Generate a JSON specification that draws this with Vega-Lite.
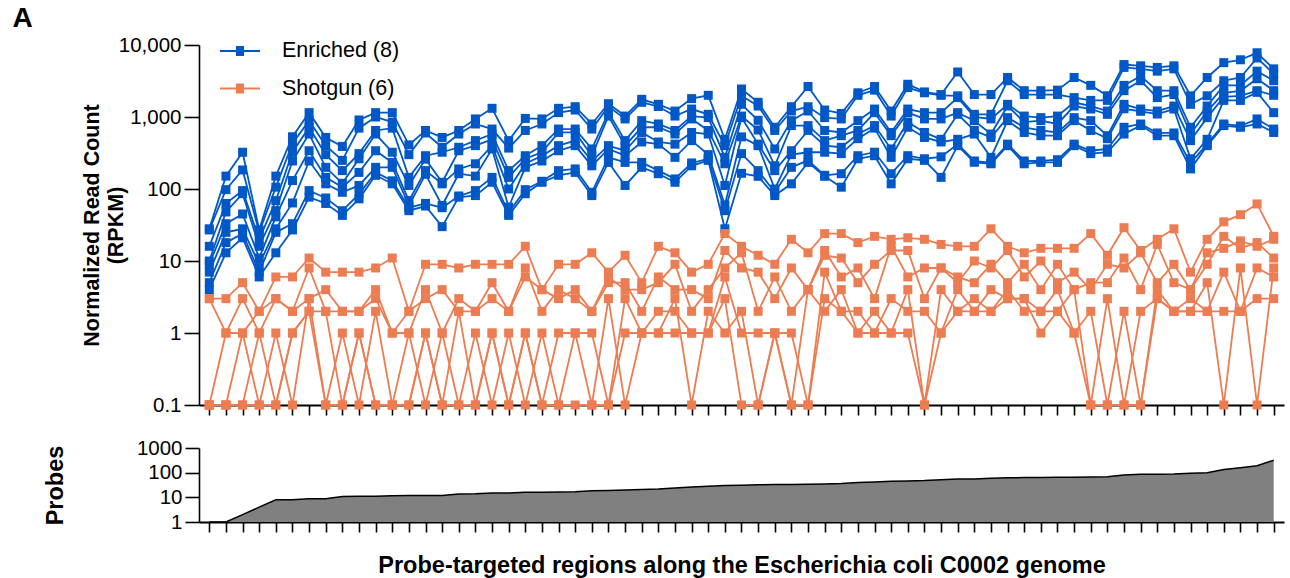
{
"$schema": "https://vega.github.io/schema/vega-lite/v6.json",
"padding": {"left": 12, "top": 5, "right": 5, "bottom": 2},
"background": "white",
"config": {
  "font": "Liberation Sans",
  "view": {"stroke": null},
  "axis": {"grid": false, "domainColor": "black", "domainWidth": 1.6, "tickColor": "black", "tickWidth": 1.6, "labelColor": "black", "labelFontSize": 20.5, "labelFont": "Liberation Sans", "titleFont": "Liberation Sans", "titleFontSize": 21.5, "titleFontWeight": "bold", "titleColor": "black"}
},
"title": {"text": "A", "anchor": "start", "fontSize": 28, "fontWeight": "bold", "font": "Liberation Sans", "color": "black", "dx": -31, "offset": 2},
"spacing": 22,
"resolve": {"scale": {"color": "independent", "fill": "independent"}, "legend": {"color": "independent", "fill": "independent"}},
"datasets": {
"reads": [
{"g":"E","s":1,"i":0,"v":28},{"g":"E","s":1,"i":1,"v":151},{"g":"E","s":1,"i":2,"v":324},{"g":"E","s":1,"i":3,"v":27},{"g":"E","s":1,"i":4,"v":151},{"g":"E","s":1,"i":5,"v":532},{"g":"E","s":1,"i":6,"v":1150},{"g":"E","s":1,"i":7,"v":520},{"g":"E","s":1,"i":8,"v":390},{"g":"E","s":1,"i":9,"v":910},{"g":"E","s":1,"i":10,"v":1150},{"g":"E","s":1,"i":11,"v":1150},{"g":"E","s":1,"i":12,"v":410},{"g":"E","s":1,"i":13,"v":650},{"g":"E","s":1,"i":14,"v":520},{"g":"E","s":1,"i":15,"v":650},{"g":"E","s":1,"i":16,"v":940},{"g":"E","s":1,"i":17,"v":1320},{"g":"E","s":1,"i":18,"v":470},{"g":"E","s":1,"i":19,"v":955},{"g":"E","s":1,"i":20,"v":940},{"g":"E","s":1,"i":21,"v":1320},{"g":"E","s":1,"i":22,"v":1390},{"g":"E","s":1,"i":23,"v":800},{"g":"E","s":1,"i":24,"v":1530},{"g":"E","s":1,"i":25,"v":1030},{"g":"E","s":1,"i":26,"v":1760},{"g":"E","s":1,"i":27,"v":1500},{"g":"E","s":1,"i":28,"v":1210},{"g":"E","s":1,"i":29,"v":1800},{"g":"E","s":1,"i":30,"v":2000},{"g":"E","s":1,"i":31,"v":490},{"g":"E","s":1,"i":32,"v":2450},{"g":"E","s":1,"i":33,"v":1600},{"g":"E","s":1,"i":34,"v":720},{"g":"E","s":1,"i":35,"v":1390},{"g":"E","s":1,"i":36,"v":2650},{"g":"E","s":1,"i":37,"v":1250},{"g":"E","s":1,"i":38,"v":1120},{"g":"E","s":1,"i":39,"v":2170},{"g":"E","s":1,"i":40,"v":2650},{"g":"E","s":1,"i":41,"v":1210},{"g":"E","s":1,"i":42,"v":2850},{"g":"E","s":1,"i":43,"v":2230},{"g":"E","s":1,"i":44,"v":2050},{"g":"E","s":1,"i":45,"v":4220},{"g":"E","s":1,"i":46,"v":2050},{"g":"E","s":1,"i":47,"v":2050},{"g":"E","s":1,"i":48,"v":3540},{"g":"E","s":1,"i":49,"v":2320},{"g":"E","s":1,"i":50,"v":2320},{"g":"E","s":1,"i":51,"v":2360},{"g":"E","s":1,"i":52,"v":3540},{"g":"E","s":1,"i":53,"v":2750},{"g":"E","s":1,"i":54,"v":1970},{"g":"E","s":1,"i":55,"v":5350},{"g":"E","s":1,"i":56,"v":5140},{"g":"E","s":1,"i":57,"v":4880},{"g":"E","s":1,"i":58,"v":5140},{"g":"E","s":1,"i":59,"v":1970},{"g":"E","s":1,"i":60,"v":3540},{"g":"E","s":1,"i":61,"v":5690},{"g":"E","s":1,"i":62,"v":6230},{"g":"E","s":1,"i":63,"v":7800},{"g":"E","s":1,"i":64,"v":4660},
{"g":"E","s":2,"i":0,"v":27},{"g":"E","s":2,"i":1,"v":98},{"g":"E","s":2,"i":2,"v":184},{"g":"E","s":2,"i":3,"v":25},{"g":"E","s":2,"i":4,"v":106},{"g":"E","s":2,"i":5,"v":428},{"g":"E","s":2,"i":6,"v":890},{"g":"E","s":2,"i":7,"v":400},{"g":"E","s":2,"i":8,"v":250},{"g":"E","s":2,"i":9,"v":700},{"g":"E","s":2,"i":10,"v":1000},{"g":"E","s":2,"i":11,"v":850},{"g":"E","s":2,"i":12,"v":300},{"g":"E","s":2,"i":13,"v":600},{"g":"E","s":2,"i":14,"v":380},{"g":"E","s":2,"i":15,"v":580},{"g":"E","s":2,"i":16,"v":800},{"g":"E","s":2,"i":17,"v":680},{"g":"E","s":2,"i":18,"v":370},{"g":"E","s":2,"i":19,"v":650},{"g":"E","s":2,"i":20,"v":800},{"g":"E","s":2,"i":21,"v":1150},{"g":"E","s":2,"i":22,"v":1250},{"g":"E","s":2,"i":23,"v":680},{"g":"E","s":2,"i":24,"v":1400},{"g":"E","s":2,"i":25,"v":940},{"g":"E","s":2,"i":26,"v":1600},{"g":"E","s":2,"i":27,"v":1400},{"g":"E","s":2,"i":28,"v":1030},{"g":"E","s":2,"i":29,"v":1290},{"g":"E","s":2,"i":30,"v":1090},{"g":"E","s":2,"i":31,"v":400},{"g":"E","s":2,"i":32,"v":1970},{"g":"E","s":2,"i":33,"v":1420},{"g":"E","s":2,"i":34,"v":650},{"g":"E","s":2,"i":35,"v":1210},{"g":"E","s":2,"i":36,"v":1390},{"g":"E","s":2,"i":37,"v":980},{"g":"E","s":2,"i":38,"v":940},{"g":"E","s":2,"i":39,"v":2000},{"g":"E","s":2,"i":40,"v":2360},{"g":"E","s":2,"i":41,"v":1030},{"g":"E","s":2,"i":42,"v":2560},{"g":"E","s":2,"i":43,"v":2170},{"g":"E","s":2,"i":44,"v":2000},{"g":"E","s":2,"i":45,"v":1970},{"g":"E","s":2,"i":46,"v":1090},{"g":"E","s":2,"i":47,"v":1090},{"g":"E","s":2,"i":48,"v":3190},{"g":"E","s":2,"i":49,"v":2050},{"g":"E","s":2,"i":50,"v":2050},{"g":"E","s":2,"i":51,"v":2050},{"g":"E","s":2,"i":52,"v":1860},{"g":"E","s":2,"i":53,"v":1700},{"g":"E","s":2,"i":54,"v":1700},{"g":"E","s":2,"i":55,"v":4880},{"g":"E","s":2,"i":56,"v":4660},{"g":"E","s":2,"i":57,"v":4330},{"g":"E","s":2,"i":58,"v":4660},{"g":"E","s":2,"i":59,"v":1500},{"g":"E","s":2,"i":60,"v":1970},{"g":"E","s":2,"i":61,"v":3190},{"g":"E","s":2,"i":62,"v":3540},{"g":"E","s":2,"i":63,"v":6600},{"g":"E","s":2,"i":64,"v":4000},
{"g":"E","s":3,"i":0,"v":16},{"g":"E","s":3,"i":1,"v":63},{"g":"E","s":3,"i":2,"v":95},{"g":"E","s":3,"i":3,"v":20},{"g":"E","s":3,"i":4,"v":69},{"g":"E","s":3,"i":5,"v":324},{"g":"E","s":3,"i":6,"v":720},{"g":"E","s":3,"i":7,"v":300},{"g":"E","s":3,"i":8,"v":180},{"g":"E","s":3,"i":9,"v":310},{"g":"E","s":3,"i":10,"v":650},{"g":"E","s":3,"i":11,"v":700},{"g":"E","s":3,"i":12,"v":145},{"g":"E","s":3,"i":13,"v":290},{"g":"E","s":3,"i":14,"v":324},{"g":"E","s":3,"i":15,"v":380},{"g":"E","s":3,"i":16,"v":470},{"g":"E","s":3,"i":17,"v":580},{"g":"E","s":3,"i":18,"v":180},{"g":"E","s":3,"i":19,"v":290},{"g":"E","s":3,"i":20,"v":400},{"g":"E","s":3,"i":21,"v":680},{"g":"E","s":3,"i":22,"v":680},{"g":"E","s":3,"i":23,"v":360},{"g":"E","s":3,"i":24,"v":1150},{"g":"E","s":3,"i":25,"v":470},{"g":"E","s":3,"i":26,"v":890},{"g":"E","s":3,"i":27,"v":800},{"g":"E","s":3,"i":28,"v":650},{"g":"E","s":3,"i":29,"v":1030},{"g":"E","s":3,"i":30,"v":980},{"g":"E","s":3,"i":31,"v":275},{"g":"E","s":3,"i":32,"v":1500},{"g":"E","s":3,"i":33,"v":900},{"g":"E","s":3,"i":34,"v":360},{"g":"E","s":3,"i":35,"v":890},{"g":"E","s":3,"i":36,"v":1210},{"g":"E","s":3,"i":37,"v":650},{"g":"E","s":3,"i":38,"v":610},{"g":"E","s":3,"i":39,"v":890},{"g":"E","s":3,"i":40,"v":1290},{"g":"E","s":3,"i":41,"v":610},{"g":"E","s":3,"i":42,"v":1290},{"g":"E","s":3,"i":43,"v":1150},{"g":"E","s":3,"i":44,"v":1150},{"g":"E","s":3,"i":45,"v":1860},{"g":"E","s":3,"i":46,"v":1000},{"g":"E","s":3,"i":47,"v":940},{"g":"E","s":3,"i":48,"v":1500},{"g":"E","s":3,"i":49,"v":1030},{"g":"E","s":3,"i":50,"v":980},{"g":"E","s":3,"i":51,"v":1030},{"g":"E","s":3,"i":52,"v":1600},{"g":"E","s":3,"i":53,"v":1420},{"g":"E","s":3,"i":54,"v":1210},{"g":"E","s":3,"i":55,"v":2750},{"g":"E","s":3,"i":56,"v":3700},{"g":"E","s":3,"i":57,"v":2320},{"g":"E","s":3,"i":58,"v":2320},{"g":"E","s":3,"i":59,"v":720},{"g":"E","s":3,"i":60,"v":1420},{"g":"E","s":3,"i":61,"v":2750},{"g":"E","s":3,"i":62,"v":2750},{"g":"E","s":3,"i":63,"v":4330},{"g":"E","s":3,"i":64,"v":3190},
{"g":"E","s":4,"i":0,"v":10},{"g":"E","s":4,"i":1,"v":48},{"g":"E","s":4,"i":2,"v":86},{"g":"E","s":4,"i":3,"v":16},{"g":"E","s":4,"i":4,"v":50},{"g":"E","s":4,"i":5,"v":245},{"g":"E","s":4,"i":6,"v":580},{"g":"E","s":4,"i":7,"v":200},{"g":"E","s":4,"i":8,"v":120},{"g":"E","s":4,"i":9,"v":263},{"g":"E","s":4,"i":10,"v":580},{"g":"E","s":4,"i":11,"v":324},{"g":"E","s":4,"i":12,"v":112},{"g":"E","s":4,"i":13,"v":260},{"g":"E","s":4,"i":14,"v":124},{"g":"E","s":4,"i":15,"v":340},{"g":"E","s":4,"i":16,"v":400},{"g":"E","s":4,"i":17,"v":490},{"g":"E","s":4,"i":18,"v":145},{"g":"E","s":4,"i":19,"v":263},{"g":"E","s":4,"i":20,"v":324},{"g":"E","s":4,"i":21,"v":610},{"g":"E","s":4,"i":22,"v":610},{"g":"E","s":4,"i":23,"v":290},{"g":"E","s":4,"i":24,"v":1030},{"g":"E","s":4,"i":25,"v":400},{"g":"E","s":4,"i":26,"v":720},{"g":"E","s":4,"i":27,"v":720},{"g":"E","s":4,"i":28,"v":580},{"g":"E","s":4,"i":29,"v":940},{"g":"E","s":4,"i":30,"v":650},{"g":"E","s":4,"i":31,"v":224},{"g":"E","s":4,"i":32,"v":1030},{"g":"E","s":4,"i":33,"v":660},{"g":"E","s":4,"i":34,"v":210},{"g":"E","s":4,"i":35,"v":760},{"g":"E","s":4,"i":36,"v":760},{"g":"E","s":4,"i":37,"v":470},{"g":"E","s":4,"i":38,"v":550},{"g":"E","s":4,"i":39,"v":650},{"g":"E","s":4,"i":40,"v":1150},{"g":"E","s":4,"i":41,"v":550},{"g":"E","s":4,"i":42,"v":1150},{"g":"E","s":4,"i":43,"v":940},{"g":"E","s":4,"i":44,"v":940},{"g":"E","s":4,"i":45,"v":1150},{"g":"E","s":4,"i":46,"v":890},{"g":"E","s":4,"i":47,"v":580},{"g":"E","s":4,"i":48,"v":1420},{"g":"E","s":4,"i":49,"v":850},{"g":"E","s":4,"i":50,"v":890},{"g":"E","s":4,"i":51,"v":800},{"g":"E","s":4,"i":52,"v":1420},{"g":"E","s":4,"i":53,"v":1290},{"g":"E","s":4,"i":54,"v":1090},{"g":"E","s":4,"i":55,"v":2320},{"g":"E","s":4,"i":56,"v":3190},{"g":"E","s":4,"i":57,"v":1860},{"g":"E","s":4,"i":58,"v":2050},{"g":"E","s":4,"i":59,"v":580},{"g":"E","s":4,"i":60,"v":1200},{"g":"E","s":4,"i":61,"v":2170},{"g":"E","s":4,"i":62,"v":2300},{"g":"E","s":4,"i":63,"v":3400},{"g":"E","s":4,"i":64,"v":2320},
{"g":"E","s":5,"i":0,"v":9},{"g":"E","s":5,"i":1,"v":33},{"g":"E","s":5,"i":2,"v":45},{"g":"E","s":5,"i":3,"v":11},{"g":"E","s":5,"i":4,"v":41},{"g":"E","s":5,"i":5,"v":131},{"g":"E","s":5,"i":6,"v":340},{"g":"E","s":5,"i":7,"v":145},{"g":"E","s":5,"i":8,"v":106},{"g":"E","s":5,"i":9,"v":170},{"g":"E","s":5,"i":10,"v":340},{"g":"E","s":5,"i":11,"v":234},{"g":"E","s":5,"i":12,"v":69},{"g":"E","s":5,"i":13,"v":180},{"g":"E","s":5,"i":14,"v":118},{"g":"E","s":5,"i":15,"v":190},{"g":"E","s":5,"i":16,"v":224},{"g":"E","s":5,"i":17,"v":400},{"g":"E","s":5,"i":18,"v":100},{"g":"E","s":5,"i":19,"v":224},{"g":"E","s":5,"i":20,"v":290},{"g":"E","s":5,"i":21,"v":400},{"g":"E","s":5,"i":22,"v":470},{"g":"E","s":5,"i":23,"v":245},{"g":"E","s":5,"i":24,"v":400},{"g":"E","s":5,"i":25,"v":340},{"g":"E","s":5,"i":26,"v":610},{"g":"E","s":5,"i":27,"v":450},{"g":"E","s":5,"i":28,"v":420},{"g":"E","s":5,"i":29,"v":610},{"g":"E","s":5,"i":30,"v":580},{"g":"E","s":5,"i":31,"v":112},{"g":"E","s":5,"i":32,"v":980},{"g":"E","s":5,"i":33,"v":420},{"g":"E","s":5,"i":34,"v":180},{"g":"E","s":5,"i":35,"v":340},{"g":"E","s":5,"i":36,"v":650},{"g":"E","s":5,"i":37,"v":400},{"g":"E","s":5,"i":38,"v":380},{"g":"E","s":5,"i":39,"v":580},{"g":"E","s":5,"i":40,"v":760},{"g":"E","s":5,"i":41,"v":360},{"g":"E","s":5,"i":42,"v":850},{"g":"E","s":5,"i":43,"v":610},{"g":"E","s":5,"i":44,"v":490},{"g":"E","s":5,"i":45,"v":1090},{"g":"E","s":5,"i":46,"v":650},{"g":"E","s":5,"i":47,"v":520},{"g":"E","s":5,"i":48,"v":980},{"g":"E","s":5,"i":49,"v":720},{"g":"E","s":5,"i":50,"v":650},{"g":"E","s":5,"i":51,"v":610},{"g":"E","s":5,"i":52,"v":980},{"g":"E","s":5,"i":53,"v":890},{"g":"E","s":5,"i":54,"v":550},{"g":"E","s":5,"i":55,"v":1500},{"g":"E","s":5,"i":56,"v":1290},{"g":"E","s":5,"i":57,"v":1210},{"g":"E","s":5,"i":58,"v":1420},{"g":"E","s":5,"i":59,"v":470},{"g":"E","s":5,"i":60,"v":980},{"g":"E","s":5,"i":61,"v":1900},{"g":"E","s":5,"i":62,"v":1970},{"g":"E","s":5,"i":63,"v":2320},{"g":"E","s":5,"i":64,"v":2000},
{"g":"E","s":6,"i":0,"v":7},{"g":"E","s":6,"i":1,"v":25},{"g":"E","s":6,"i":2,"v":28},{"g":"E","s":6,"i":3,"v":9},{"g":"E","s":6,"i":4,"v":28},{"g":"E","s":6,"i":5,"v":64},{"g":"E","s":6,"i":6,"v":245},{"g":"E","s":6,"i":7,"v":118},{"g":"E","s":6,"i":8,"v":90},{"g":"E","s":6,"i":9,"v":112},{"g":"E","s":6,"i":10,"v":200},{"g":"E","s":6,"i":11,"v":200},{"g":"E","s":6,"i":12,"v":59},{"g":"E","s":6,"i":13,"v":160},{"g":"E","s":6,"i":14,"v":59},{"g":"E","s":6,"i":15,"v":163},{"g":"E","s":6,"i":16,"v":151},{"g":"E","s":6,"i":17,"v":360},{"g":"E","s":6,"i":18,"v":56},{"g":"E","s":6,"i":19,"v":200},{"g":"E","s":6,"i":20,"v":245},{"g":"E","s":6,"i":21,"v":340},{"g":"E","s":6,"i":22,"v":400},{"g":"E","s":6,"i":23,"v":210},{"g":"E","s":6,"i":24,"v":360},{"g":"E","s":6,"i":25,"v":290},{"g":"E","s":6,"i":26,"v":450},{"g":"E","s":6,"i":27,"v":420},{"g":"E","s":6,"i":28,"v":275},{"g":"E","s":6,"i":29,"v":470},{"g":"E","s":6,"i":30,"v":300},{"g":"E","s":6,"i":31,"v":60},{"g":"E","s":6,"i":32,"v":530},{"g":"E","s":6,"i":33,"v":400},{"g":"E","s":6,"i":34,"v":100},{"g":"E","s":6,"i":35,"v":300},{"g":"E","s":6,"i":36,"v":324},{"g":"E","s":6,"i":37,"v":324},{"g":"E","s":6,"i":38,"v":310},{"g":"E","s":6,"i":39,"v":500},{"g":"E","s":6,"i":40,"v":700},{"g":"E","s":6,"i":41,"v":275},{"g":"E","s":6,"i":42,"v":720},{"g":"E","s":6,"i":43,"v":520},{"g":"E","s":6,"i":44,"v":450},{"g":"E","s":6,"i":45,"v":490},{"g":"E","s":6,"i":46,"v":580},{"g":"E","s":6,"i":47,"v":275},{"g":"E","s":6,"i":48,"v":890},{"g":"E","s":6,"i":49,"v":610},{"g":"E","s":6,"i":50,"v":550},{"g":"E","s":6,"i":51,"v":550},{"g":"E","s":6,"i":52,"v":890},{"g":"E","s":6,"i":53,"v":650},{"g":"E","s":6,"i":54,"v":500},{"g":"E","s":6,"i":55,"v":1300},{"g":"E","s":6,"i":56,"v":1200},{"g":"E","s":6,"i":57,"v":1100},{"g":"E","s":6,"i":58,"v":1290},{"g":"E","s":6,"i":59,"v":263},{"g":"E","s":6,"i":60,"v":490},{"g":"E","s":6,"i":61,"v":1700},{"g":"E","s":6,"i":62,"v":1700},{"g":"E","s":6,"i":63,"v":2200},{"g":"E","s":6,"i":64,"v":1150},
{"g":"E","s":7,"i":0,"v":5},{"g":"E","s":7,"i":1,"v":18},{"g":"E","s":7,"i":2,"v":24},{"g":"E","s":7,"i":3,"v":7},{"g":"E","s":7,"i":4,"v":25},{"g":"E","s":7,"i":5,"v":33},{"g":"E","s":7,"i":6,"v":95},{"g":"E","s":7,"i":7,"v":75},{"g":"E","s":7,"i":8,"v":50},{"g":"E","s":7,"i":9,"v":85},{"g":"E","s":7,"i":10,"v":170},{"g":"E","s":7,"i":11,"v":130},{"g":"E","s":7,"i":12,"v":55},{"g":"E","s":7,"i":13,"v":63},{"g":"E","s":7,"i":14,"v":55},{"g":"E","s":7,"i":15,"v":80},{"g":"E","s":7,"i":16,"v":95},{"g":"E","s":7,"i":17,"v":145},{"g":"E","s":7,"i":18,"v":47},{"g":"E","s":7,"i":19,"v":98},{"g":"E","s":7,"i":20,"v":128},{"g":"E","s":7,"i":21,"v":180},{"g":"E","s":7,"i":22,"v":190},{"g":"E","s":7,"i":23,"v":90},{"g":"E","s":7,"i":24,"v":275},{"g":"E","s":7,"i":25,"v":234},{"g":"E","s":7,"i":26,"v":234},{"g":"E","s":7,"i":27,"v":180},{"g":"E","s":7,"i":28,"v":138},{"g":"E","s":7,"i":29,"v":230},{"g":"E","s":7,"i":30,"v":263},{"g":"E","s":7,"i":31,"v":50},{"g":"E","s":7,"i":32,"v":310},{"g":"E","s":7,"i":33,"v":180},{"g":"E","s":7,"i":34,"v":90},{"g":"E","s":7,"i":35,"v":200},{"g":"E","s":7,"i":36,"v":250},{"g":"E","s":7,"i":37,"v":155},{"g":"E","s":7,"i":38,"v":163},{"g":"E","s":7,"i":39,"v":290},{"g":"E","s":7,"i":40,"v":324},{"g":"E","s":7,"i":41,"v":163},{"g":"E","s":7,"i":42,"v":290},{"g":"E","s":7,"i":43,"v":263},{"g":"E","s":7,"i":44,"v":280},{"g":"E","s":7,"i":45,"v":420},{"g":"E","s":7,"i":46,"v":245},{"g":"E","s":7,"i":47,"v":230},{"g":"E","s":7,"i":48,"v":420},{"g":"E","s":7,"i":49,"v":245},{"g":"E","s":7,"i":50,"v":245},{"g":"E","s":7,"i":51,"v":255},{"g":"E","s":7,"i":52,"v":420},{"g":"E","s":7,"i":53,"v":340},{"g":"E","s":7,"i":54,"v":360},{"g":"E","s":7,"i":55,"v":720},{"g":"E","s":7,"i":56,"v":800},{"g":"E","s":7,"i":57,"v":600},{"g":"E","s":7,"i":58,"v":600},{"g":"E","s":7,"i":59,"v":230},{"g":"E","s":7,"i":60,"v":420},{"g":"E","s":7,"i":61,"v":800},{"g":"E","s":7,"i":62,"v":750},{"g":"E","s":7,"i":63,"v":940},{"g":"E","s":7,"i":64,"v":680},
{"g":"E","s":8,"i":0,"v":4},{"g":"E","s":8,"i":1,"v":13},{"g":"E","s":8,"i":2,"v":21},{"g":"E","s":8,"i":3,"v":6},{"g":"E","s":8,"i":4,"v":13},{"g":"E","s":8,"i":5,"v":27},{"g":"E","s":8,"i":6,"v":77},{"g":"E","s":8,"i":7,"v":63},{"g":"E","s":8,"i":8,"v":43},{"g":"E","s":8,"i":9,"v":73},{"g":"E","s":8,"i":10,"v":155},{"g":"E","s":8,"i":11,"v":118},{"g":"E","s":8,"i":12,"v":50},{"g":"E","s":8,"i":13,"v":58},{"g":"E","s":8,"i":14,"v":30},{"g":"E","s":8,"i":15,"v":77},{"g":"E","s":8,"i":16,"v":81},{"g":"E","s":8,"i":17,"v":124},{"g":"E","s":8,"i":18,"v":43},{"g":"E","s":8,"i":19,"v":86},{"g":"E","s":8,"i":20,"v":124},{"g":"E","s":8,"i":21,"v":155},{"g":"E","s":8,"i":22,"v":170},{"g":"E","s":8,"i":23,"v":81},{"g":"E","s":8,"i":24,"v":234},{"g":"E","s":8,"i":25,"v":112},{"g":"E","s":8,"i":26,"v":200},{"g":"E","s":8,"i":27,"v":163},{"g":"E","s":8,"i":28,"v":124},{"g":"E","s":8,"i":29,"v":210},{"g":"E","s":8,"i":30,"v":250},{"g":"E","s":8,"i":31,"v":28},{"g":"E","s":8,"i":32,"v":165},{"g":"E","s":8,"i":33,"v":150},{"g":"E","s":8,"i":34,"v":81},{"g":"E","s":8,"i":35,"v":118},{"g":"E","s":8,"i":36,"v":234},{"g":"E","s":8,"i":37,"v":150},{"g":"E","s":8,"i":38,"v":106},{"g":"E","s":8,"i":39,"v":263},{"g":"E","s":8,"i":40,"v":290},{"g":"E","s":8,"i":41,"v":118},{"g":"E","s":8,"i":42,"v":263},{"g":"E","s":8,"i":43,"v":250},{"g":"E","s":8,"i":44,"v":145},{"g":"E","s":8,"i":45,"v":400},{"g":"E","s":8,"i":46,"v":235},{"g":"E","s":8,"i":47,"v":224},{"g":"E","s":8,"i":48,"v":400},{"g":"E","s":8,"i":49,"v":224},{"g":"E","s":8,"i":50,"v":234},{"g":"E","s":8,"i":51,"v":234},{"g":"E","s":8,"i":52,"v":400},{"g":"E","s":8,"i":53,"v":310},{"g":"E","s":8,"i":54,"v":324},{"g":"E","s":8,"i":55,"v":580},{"g":"E","s":8,"i":56,"v":760},{"g":"E","s":8,"i":57,"v":550},{"g":"E","s":8,"i":58,"v":550},{"g":"E","s":8,"i":59,"v":190},{"g":"E","s":8,"i":60,"v":400},{"g":"E","s":8,"i":61,"v":760},{"g":"E","s":8,"i":62,"v":720},{"g":"E","s":8,"i":63,"v":800},{"g":"E","s":8,"i":64,"v":610},
{"g":"S","s":1,"i":0,"v":3},{"g":"S","s":1,"i":1,"v":3},{"g":"S","s":1,"i":2,"v":5},{"g":"S","s":1,"i":3,"v":2},{"g":"S","s":1,"i":4,"v":6},{"g":"S","s":1,"i":5,"v":6},{"g":"S","s":1,"i":6,"v":11},{"g":"S","s":1,"i":7,"v":7},{"g":"S","s":1,"i":8,"v":7},{"g":"S","s":1,"i":9,"v":7},{"g":"S","s":1,"i":10,"v":8},{"g":"S","s":1,"i":11,"v":11},{"g":"S","s":1,"i":12,"v":2},{"g":"S","s":1,"i":13,"v":9},{"g":"S","s":1,"i":14,"v":9},{"g":"S","s":1,"i":15,"v":8},{"g":"S","s":1,"i":16,"v":9},{"g":"S","s":1,"i":17,"v":9},{"g":"S","s":1,"i":18,"v":9},{"g":"S","s":1,"i":19,"v":16},{"g":"S","s":1,"i":20,"v":4},{"g":"S","s":1,"i":21,"v":9},{"g":"S","s":1,"i":22,"v":9},{"g":"S","s":1,"i":23,"v":13},{"g":"S","s":1,"i":24,"v":7},{"g":"S","s":1,"i":25,"v":12},{"g":"S","s":1,"i":26,"v":5},{"g":"S","s":1,"i":27,"v":16},{"g":"S","s":1,"i":28,"v":13},{"g":"S","s":1,"i":29,"v":7},{"g":"S","s":1,"i":30,"v":9},{"g":"S","s":1,"i":31,"v":24},{"g":"S","s":1,"i":32,"v":16},{"g":"S","s":1,"i":33,"v":12},{"g":"S","s":1,"i":34,"v":9},{"g":"S","s":1,"i":35,"v":20},{"g":"S","s":1,"i":36,"v":13},{"g":"S","s":1,"i":37,"v":24},{"g":"S","s":1,"i":38,"v":24},{"g":"S","s":1,"i":39,"v":18},{"g":"S","s":1,"i":40,"v":22},{"g":"S","s":1,"i":41,"v":20},{"g":"S","s":1,"i":42,"v":21},{"g":"S","s":1,"i":43,"v":20},{"g":"S","s":1,"i":44,"v":17},{"g":"S","s":1,"i":45,"v":16},{"g":"S","s":1,"i":46,"v":16},{"g":"S","s":1,"i":47,"v":28},{"g":"S","s":1,"i":48,"v":16},{"g":"S","s":1,"i":49,"v":13},{"g":"S","s":1,"i":50,"v":15},{"g":"S","s":1,"i":51,"v":15},{"g":"S","s":1,"i":52,"v":15},{"g":"S","s":1,"i":53,"v":24},{"g":"S","s":1,"i":54,"v":12},{"g":"S","s":1,"i":55,"v":29},{"g":"S","s":1,"i":56,"v":14},{"g":"S","s":1,"i":57,"v":20},{"g":"S","s":1,"i":58,"v":28},{"g":"S","s":1,"i":59,"v":7},{"g":"S","s":1,"i":60,"v":20},{"g":"S","s":1,"i":61,"v":35},{"g":"S","s":1,"i":62,"v":44},{"g":"S","s":1,"i":63,"v":62},{"g":"S","s":1,"i":64,"v":22},
{"g":"S","s":2,"i":0,"v":3},{"g":"S","s":2,"i":1,"v":1},{"g":"S","s":2,"i":2,"v":3},{"g":"S","s":2,"i":3,"v":1},{"g":"S","s":2,"i":4,"v":3},{"g":"S","s":2,"i":5,"v":2},{"g":"S","s":2,"i":6,"v":8},{"g":"S","s":2,"i":7,"v":2},{"g":"S","s":2,"i":8,"v":2},{"g":"S","s":2,"i":9,"v":2},{"g":"S","s":2,"i":10,"v":4},{"g":"S","s":2,"i":11,"v":1},{"g":"S","s":2,"i":12,"v":2},{"g":"S","s":2,"i":13,"v":3},{"g":"S","s":2,"i":14,"v":4},{"g":"S","s":2,"i":15,"v":2},{"g":"S","s":2,"i":16,"v":2},{"g":"S","s":2,"i":17,"v":3},{"g":"S","s":2,"i":18,"v":2},{"g":"S","s":2,"i":19,"v":6},{"g":"S","s":2,"i":20,"v":4},{"g":"S","s":2,"i":21,"v":3},{"g":"S","s":2,"i":22,"v":4},{"g":"S","s":2,"i":23,"v":2},{"g":"S","s":2,"i":24,"v":6},{"g":"S","s":2,"i":25,"v":4},{"g":"S","s":2,"i":26,"v":4},{"g":"S","s":2,"i":27,"v":5},{"g":"S","s":2,"i":28,"v":9},{"g":"S","s":2,"i":29,"v":2},{"g":"S","s":2,"i":30,"v":4},{"g":"S","s":2,"i":31,"v":8},{"g":"S","s":2,"i":32,"v":13},{"g":"S","s":2,"i":33,"v":2},{"g":"S","s":2,"i":34,"v":6},{"g":"S","s":2,"i":35,"v":2},{"g":"S","s":2,"i":36,"v":4},{"g":"S","s":2,"i":37,"v":12},{"g":"S","s":2,"i":38,"v":11},{"g":"S","s":2,"i":39,"v":5},{"g":"S","s":2,"i":40,"v":9},{"g":"S","s":2,"i":41,"v":14},{"g":"S","s":2,"i":42,"v":14},{"g":"S","s":2,"i":43,"v":3},{"g":"S","s":2,"i":44,"v":8},{"g":"S","s":2,"i":45,"v":5},{"g":"S","s":2,"i":46,"v":10},{"g":"S","s":2,"i":47,"v":8},{"g":"S","s":2,"i":48,"v":14},{"g":"S","s":2,"i":49,"v":6},{"g":"S","s":2,"i":50,"v":10},{"g":"S","s":2,"i":51,"v":5},{"g":"S","s":2,"i":52,"v":7},{"g":"S","s":2,"i":53,"v":4},{"g":"S","s":2,"i":54,"v":9},{"g":"S","s":2,"i":55,"v":8},{"g":"S","s":2,"i":56,"v":13},{"g":"S","s":2,"i":57,"v":5},{"g":"S","s":2,"i":58,"v":9},{"g":"S","s":2,"i":59,"v":4},{"g":"S","s":2,"i":60,"v":13},{"g":"S","s":2,"i":61,"v":15},{"g":"S","s":2,"i":62,"v":19},{"g":"S","s":2,"i":63,"v":16},{"g":"S","s":2,"i":64,"v":20},
{"g":"S","s":3,"i":0,"v":0.1},{"g":"S","s":3,"i":1,"v":1},{"g":"S","s":3,"i":2,"v":1},{"g":"S","s":3,"i":3,"v":2},{"g":"S","s":3,"i":4,"v":3},{"g":"S","s":3,"i":5,"v":2},{"g":"S","s":3,"i":6,"v":3},{"g":"S","s":3,"i":7,"v":4},{"g":"S","s":3,"i":8,"v":2},{"g":"S","s":3,"i":9,"v":2},{"g":"S","s":3,"i":10,"v":3},{"g":"S","s":3,"i":11,"v":1},{"g":"S","s":3,"i":12,"v":1},{"g":"S","s":3,"i":13,"v":4},{"g":"S","s":3,"i":14,"v":1},{"g":"S","s":3,"i":15,"v":3},{"g":"S","s":3,"i":16,"v":2},{"g":"S","s":3,"i":17,"v":5},{"g":"S","s":3,"i":18,"v":2},{"g":"S","s":3,"i":19,"v":8},{"g":"S","s":3,"i":20,"v":2},{"g":"S","s":3,"i":21,"v":4},{"g":"S","s":3,"i":22,"v":3},{"g":"S","s":3,"i":23,"v":2},{"g":"S","s":3,"i":24,"v":5},{"g":"S","s":3,"i":25,"v":5},{"g":"S","s":3,"i":26,"v":2},{"g":"S","s":3,"i":27,"v":6},{"g":"S","s":3,"i":28,"v":4},{"g":"S","s":3,"i":29,"v":4},{"g":"S","s":3,"i":30,"v":3},{"g":"S","s":3,"i":31,"v":14},{"g":"S","s":3,"i":32,"v":8},{"g":"S","s":3,"i":33,"v":7},{"g":"S","s":3,"i":34,"v":3},{"g":"S","s":3,"i":35,"v":8},{"g":"S","s":3,"i":36,"v":4},{"g":"S","s":3,"i":37,"v":14},{"g":"S","s":3,"i":38,"v":6},{"g":"S","s":3,"i":39,"v":8},{"g":"S","s":3,"i":40,"v":3},{"g":"S","s":3,"i":41,"v":16},{"g":"S","s":3,"i":42,"v":6},{"g":"S","s":3,"i":43,"v":8},{"g":"S","s":3,"i":44,"v":8},{"g":"S","s":3,"i":45,"v":6},{"g":"S","s":3,"i":46,"v":5},{"g":"S","s":3,"i":47,"v":9},{"g":"S","s":3,"i":48,"v":5},{"g":"S","s":3,"i":49,"v":9},{"g":"S","s":3,"i":50,"v":4},{"g":"S","s":3,"i":51,"v":9},{"g":"S","s":3,"i":52,"v":4},{"g":"S","s":3,"i":53,"v":5},{"g":"S","s":3,"i":54,"v":5},{"g":"S","s":3,"i":55,"v":11},{"g":"S","s":3,"i":56,"v":4},{"g":"S","s":3,"i":57,"v":17},{"g":"S","s":3,"i":58,"v":5},{"g":"S","s":3,"i":59,"v":4},{"g":"S","s":3,"i":60,"v":9},{"g":"S","s":3,"i":61,"v":22},{"g":"S","s":3,"i":62,"v":15},{"g":"S","s":3,"i":63,"v":18},{"g":"S","s":3,"i":64,"v":11},
{"g":"S","s":4,"i":0,"v":0.1},{"g":"S","s":4,"i":1,"v":0.1},{"g":"S","s":4,"i":2,"v":1},{"g":"S","s":4,"i":3,"v":0.1},{"g":"S","s":4,"i":4,"v":1},{"g":"S","s":4,"i":5,"v":0.1},{"g":"S","s":4,"i":6,"v":3},{"g":"S","s":4,"i":7,"v":0.1},{"g":"S","s":4,"i":8,"v":1},{"g":"S","s":4,"i":9,"v":0.1},{"g":"S","s":4,"i":10,"v":2},{"g":"S","s":4,"i":11,"v":0.1},{"g":"S","s":4,"i":12,"v":1},{"g":"S","s":4,"i":13,"v":0.1},{"g":"S","s":4,"i":14,"v":1},{"g":"S","s":4,"i":15,"v":0.1},{"g":"S","s":4,"i":16,"v":1},{"g":"S","s":4,"i":17,"v":0.1},{"g":"S","s":4,"i":18,"v":1},{"g":"S","s":4,"i":19,"v":0.1},{"g":"S","s":4,"i":20,"v":1},{"g":"S","s":4,"i":21,"v":0.1},{"g":"S","s":4,"i":22,"v":1},{"g":"S","s":4,"i":23,"v":0.1},{"g":"S","s":4,"i":24,"v":3},{"g":"S","s":4,"i":25,"v":0.1},{"g":"S","s":4,"i":26,"v":1},{"g":"S","s":4,"i":27,"v":1},{"g":"S","s":4,"i":28,"v":3},{"g":"S","s":4,"i":29,"v":0.1},{"g":"S","s":4,"i":30,"v":2},{"g":"S","s":4,"i":31,"v":1},{"g":"S","s":4,"i":32,"v":2},{"g":"S","s":4,"i":33,"v":0.1},{"g":"S","s":4,"i":34,"v":1},{"g":"S","s":4,"i":35,"v":0.1},{"g":"S","s":4,"i":36,"v":4},{"g":"S","s":4,"i":37,"v":2},{"g":"S","s":4,"i":38,"v":4},{"g":"S","s":4,"i":39,"v":1},{"g":"S","s":4,"i":40,"v":2},{"g":"S","s":4,"i":41,"v":1},{"g":"S","s":4,"i":42,"v":4},{"g":"S","s":4,"i":43,"v":0.1},{"g":"S","s":4,"i":44,"v":4},{"g":"S","s":4,"i":45,"v":2},{"g":"S","s":4,"i":46,"v":3},{"g":"S","s":4,"i":47,"v":2},{"g":"S","s":4,"i":48,"v":4},{"g":"S","s":4,"i":49,"v":2},{"g":"S","s":4,"i":50,"v":2},{"g":"S","s":4,"i":51,"v":2},{"g":"S","s":4,"i":52,"v":4},{"g":"S","s":4,"i":53,"v":0.1},{"g":"S","s":4,"i":54,"v":3},{"g":"S","s":4,"i":55,"v":0.1},{"g":"S","s":4,"i":56,"v":2},{"g":"S","s":4,"i":57,"v":3},{"g":"S","s":4,"i":58,"v":2},{"g":"S","s":4,"i":59,"v":2},{"g":"S","s":4,"i":60,"v":5},{"g":"S","s":4,"i":61,"v":0.1},{"g":"S","s":4,"i":62,"v":8},{"g":"S","s":4,"i":63,"v":0.1},{"g":"S","s":4,"i":64,"v":8},
{"g":"S","s":5,"i":0,"v":0.1},{"g":"S","s":5,"i":1,"v":0.1},{"g":"S","s":5,"i":2,"v":0.1},{"g":"S","s":5,"i":3,"v":1},{"g":"S","s":5,"i":4,"v":0.1},{"g":"S","s":5,"i":5,"v":1},{"g":"S","s":5,"i":6,"v":2},{"g":"S","s":5,"i":7,"v":2},{"g":"S","s":5,"i":8,"v":0.1},{"g":"S","s":5,"i":9,"v":1},{"g":"S","s":5,"i":10,"v":0.1},{"g":"S","s":5,"i":11,"v":0.1},{"g":"S","s":5,"i":12,"v":0.1},{"g":"S","s":5,"i":13,"v":1},{"g":"S","s":5,"i":14,"v":0.1},{"g":"S","s":5,"i":15,"v":2},{"g":"S","s":5,"i":16,"v":0.1},{"g":"S","s":5,"i":17,"v":1},{"g":"S","s":5,"i":18,"v":0.1},{"g":"S","s":5,"i":19,"v":1},{"g":"S","s":5,"i":20,"v":0.1},{"g":"S","s":5,"i":21,"v":1},{"g":"S","s":5,"i":22,"v":1},{"g":"S","s":5,"i":23,"v":1},{"g":"S","s":5,"i":24,"v":0.1},{"g":"S","s":5,"i":25,"v":3},{"g":"S","s":5,"i":26,"v":1},{"g":"S","s":5,"i":27,"v":2},{"g":"S","s":5,"i":28,"v":2},{"g":"S","s":5,"i":29,"v":1},{"g":"S","s":5,"i":30,"v":1},{"g":"S","s":5,"i":31,"v":6},{"g":"S","s":5,"i":32,"v":1},{"g":"S","s":5,"i":33,"v":1},{"g":"S","s":5,"i":34,"v":1},{"g":"S","s":5,"i":35,"v":1},{"g":"S","s":5,"i":36,"v":0.1},{"g":"S","s":5,"i":37,"v":7},{"g":"S","s":5,"i":38,"v":2},{"g":"S","s":5,"i":39,"v":2},{"g":"S","s":5,"i":40,"v":1},{"g":"S","s":5,"i":41,"v":3},{"g":"S","s":5,"i":42,"v":2},{"g":"S","s":5,"i":43,"v":2},{"g":"S","s":5,"i":44,"v":1},{"g":"S","s":5,"i":45,"v":4},{"g":"S","s":5,"i":46,"v":2},{"g":"S","s":5,"i":47,"v":4},{"g":"S","s":5,"i":48,"v":3},{"g":"S","s":5,"i":49,"v":3},{"g":"S","s":5,"i":50,"v":2},{"g":"S","s":5,"i":51,"v":4},{"g":"S","s":5,"i":52,"v":1},{"g":"S","s":5,"i":53,"v":2},{"g":"S","s":5,"i":54,"v":0.1},{"g":"S","s":5,"i":55,"v":2},{"g":"S","s":5,"i":56,"v":0.1},{"g":"S","s":5,"i":57,"v":4},{"g":"S","s":5,"i":58,"v":2},{"g":"S","s":5,"i":59,"v":3},{"g":"S","s":5,"i":60,"v":2},{"g":"S","s":5,"i":61,"v":7},{"g":"S","s":5,"i":62,"v":2},{"g":"S","s":5,"i":63,"v":8},{"g":"S","s":5,"i":64,"v":6},
{"g":"S","s":6,"i":0,"v":0.1},{"g":"S","s":6,"i":1,"v":0.1},{"g":"S","s":6,"i":2,"v":0.1},{"g":"S","s":6,"i":3,"v":0.1},{"g":"S","s":6,"i":4,"v":0.1},{"g":"S","s":6,"i":5,"v":1},{"g":"S","s":6,"i":6,"v":2},{"g":"S","s":6,"i":7,"v":0.1},{"g":"S","s":6,"i":8,"v":0.1},{"g":"S","s":6,"i":9,"v":1},{"g":"S","s":6,"i":10,"v":0.1},{"g":"S","s":6,"i":11,"v":0.1},{"g":"S","s":6,"i":12,"v":0.1},{"g":"S","s":6,"i":13,"v":1},{"g":"S","s":6,"i":14,"v":0.1},{"g":"S","s":6,"i":15,"v":0.1},{"g":"S","s":6,"i":16,"v":0.1},{"g":"S","s":6,"i":17,"v":1},{"g":"S","s":6,"i":18,"v":0.1},{"g":"S","s":6,"i":19,"v":1},{"g":"S","s":6,"i":20,"v":0.1},{"g":"S","s":6,"i":21,"v":0.1},{"g":"S","s":6,"i":22,"v":0.1},{"g":"S","s":6,"i":23,"v":0.1},{"g":"S","s":6,"i":24,"v":0.1},{"g":"S","s":6,"i":25,"v":1},{"g":"S","s":6,"i":26,"v":1},{"g":"S","s":6,"i":27,"v":1},{"g":"S","s":6,"i":28,"v":1},{"g":"S","s":6,"i":29,"v":1},{"g":"S","s":6,"i":30,"v":1},{"g":"S","s":6,"i":31,"v":3},{"g":"S","s":6,"i":32,"v":0.1},{"g":"S","s":6,"i":33,"v":0.1},{"g":"S","s":6,"i":34,"v":1},{"g":"S","s":6,"i":35,"v":0.1},{"g":"S","s":6,"i":36,"v":0.1},{"g":"S","s":6,"i":37,"v":3},{"g":"S","s":6,"i":38,"v":2},{"g":"S","s":6,"i":39,"v":1},{"g":"S","s":6,"i":40,"v":1},{"g":"S","s":6,"i":41,"v":1},{"g":"S","s":6,"i":42,"v":1},{"g":"S","s":6,"i":43,"v":0.1},{"g":"S","s":6,"i":44,"v":1},{"g":"S","s":6,"i":45,"v":2},{"g":"S","s":6,"i":46,"v":2},{"g":"S","s":6,"i":47,"v":2},{"g":"S","s":6,"i":48,"v":3},{"g":"S","s":6,"i":49,"v":3},{"g":"S","s":6,"i":50,"v":1},{"g":"S","s":6,"i":51,"v":2},{"g":"S","s":6,"i":52,"v":1},{"g":"S","s":6,"i":53,"v":0.1},{"g":"S","s":6,"i":54,"v":0.1},{"g":"S","s":6,"i":55,"v":0.1},{"g":"S","s":6,"i":56,"v":0.1},{"g":"S","s":6,"i":57,"v":3},{"g":"S","s":6,"i":58,"v":2},{"g":"S","s":6,"i":59,"v":2},{"g":"S","s":6,"i":60,"v":2},{"g":"S","s":6,"i":61,"v":2},{"g":"S","s":6,"i":62,"v":2},{"g":"S","s":6,"i":63,"v":3},{"g":"S","s":6,"i":64,"v":3}
],
"probes": [
{"i":0,"n":1},{"i":1,"n":1},{"i":2,"n":2},{"i":3,"n":4},{"i":4,"n":7.9},{"i":5,"n":7.9},{"i":6,"n":8.7},{"i":7,"n":8.7},{"i":8,"n":10.9},{"i":9,"n":11},{"i":10,"n":11},{"i":11,"n":11.5},{"i":12,"n":12},{"i":13,"n":12},{"i":14,"n":12},{"i":15,"n":13.6},{"i":16,"n":14},{"i":17,"n":15},{"i":18,"n":15},{"i":19,"n":16},{"i":20,"n":16},{"i":21,"n":16.5},{"i":22,"n":17},{"i":23,"n":18.5},{"i":24,"n":19},{"i":25,"n":20},{"i":26,"n":21},{"i":27,"n":22},{"i":28,"n":24},{"i":29,"n":26},{"i":30,"n":28},{"i":31,"n":30},{"i":32,"n":31},{"i":33,"n":32},{"i":34,"n":33},{"i":35,"n":33},{"i":36,"n":34},{"i":37,"n":35},{"i":38,"n":36},{"i":39,"n":40},{"i":40,"n":42},{"i":41,"n":45},{"i":42,"n":46},{"i":43,"n":48},{"i":44,"n":52},{"i":45,"n":55},{"i":46,"n":56},{"i":47,"n":60},{"i":48,"n":62},{"i":49,"n":63},{"i":50,"n":64},{"i":51,"n":65},{"i":52,"n":65},{"i":53,"n":66},{"i":54,"n":68},{"i":55,"n":80},{"i":56,"n":87},{"i":57,"n":87},{"i":58,"n":88},{"i":59,"n":95},{"i":60,"n":100},{"i":61,"n":135},{"i":62,"n":160},{"i":63,"n":190},{"i":64,"n":320}
]
},
"vconcat": [
{
  "width": 1085, "height": 360,
  "data": {"name": "reads"},
  "encoding": {
    "x": {"field": "i", "type": "quantitative", "scale": {"domain": [-0.62, 64.62], "nice": false, "zero": false},
      "axis": {"values": [0,1,2,3,4,5,6,7,8,9,10,11,12,13,14,15,16,17,18,19,20,21,22,23,24,25,26,27,28,29,30,31,32,33,34,35,36,37,38,39,40,41,42,43,44,45,46,47,48,49,50,51,52,53,54,55,56,57,58,59,60,61,62,63,64], "labels": false, "title": null, "tickSize": 10, "domainWidth": 2}},
    "y": {"field": "v", "type": "quantitative", "scale": {"type": "log", "domain": [0.1, 10000], "nice": false},
      "axis": {"values": [0.1,1,10,100,1000,10000], "format": ",~g", "tickSize": 15, "labelPadding": 3, "title": ["Normalized Read Count", "(RPKM)"], "titlePadding": -9, "titleLineHeight": 24}}
  },
  "layer": [
    {"mark": {"type": "line", "strokeWidth": 1.8},
     "encoding": {"color": {"field": "g", "type": "nominal", "scale": {"domain": ["E","S"], "range": ["#0058C6","#EC7C52"]},
        "legend": {"title": null, "orient": "none", "legendX": 30, "legendY": -5, "symbolType": "M-2,0H2M-0.4,-0.4H0.4M-0.4,-0.27H0.4M-0.4,-0.13H0.4M-0.4,0.13H0.4M-0.4,0.27H0.4M-0.4,0.4H0.4", "symbolSize": 400, "symbolStrokeWidth": 1.8, "labelFontSize": 21.5, "labelFont": "Liberation Sans", "labelColor": "black", "labelOffset": 31, "rowPadding": 15.5, "labelExpr": "datum.label == 'E' ? 'Enriched (8)' : 'Shotgun (6)'"}},
        "detail": {"field": "s"}}},
    {"mark": {"type": "point", "shape": "square", "filled": true, "size": 81, "opacity": 1, "strokeWidth": 0},
     "encoding": {
       "fill": {"field": "g", "type": "nominal", "scale": {"domain": ["E","S"], "range": ["#0058C6","#EC7C52"]}, "legend": null}
     }}
  ]
},
{
  "width": 1085, "height": 74,
  "data": {"name": "probes"},
  "mark": {"type": "area", "color": "#808080", "opacity": 1, "line": {"color": "black", "strokeWidth": 1.5}},
  "encoding": {
    "x": {"field": "i", "type": "quantitative", "scale": {"domain": [-0.62, 64.62], "nice": false, "zero": false},
      "axis": {"values": [0,1,2,3,4,5,6,7,8,9,10,11,12,13,14,15,16,17,18,19,20,21,22,23,24,25,26,27,28,29,30,31,32,33,34,35,36,37,38,39,40,41,42,43,44,45,46,47,48,49,50,51,52,53,54,55,56,57,58,59,60,61,62,63,64], "labels": false, "tickSize": 10, "domainWidth": 2, "title": "Probe-targeted regions along the Escherichia coli C0002 genome", "titlePadding": 21, "titleFontSize": 23.5}},
    "y": {"field": "n", "type": "quantitative", "scale": {"type": "log", "domain": [1, 1000], "nice": false},
      "axis": {"values": [1,10,100,1000], "format": "d", "tickSize": 14, "labelPadding": 3, "title": "Probes", "titlePadding": 69, "titleFontSize": 23.5}},
    "y2": {"datum": 1}
  }
}
]
}
